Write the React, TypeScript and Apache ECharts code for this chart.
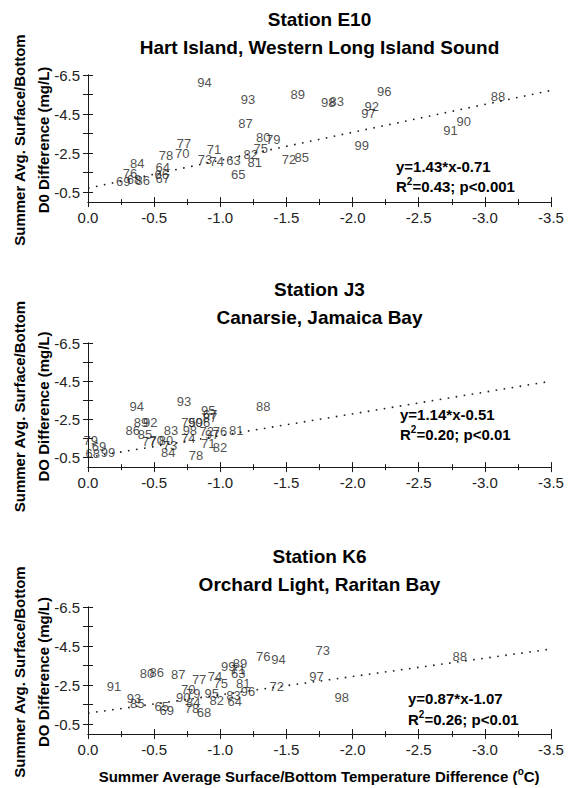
import React, { useEffect, useRef } from "react";
import * as echarts from "echarts";

// Station E10
const yearsE10 = [94, 93, 89, 87, 80, 79, 75, 82, 81, 71, 77, 70, 78, 73, 74, 63, 65, 72, 85, 84, 64, 76, 66, 67, 69, 68, 86, 96, 98, 83, 92, 97, 88, 90, 91, 99];
const xE10 = [-0.88, -1.21, -1.585, -1.19, -1.325, -1.4, -1.305, -1.23, -1.26, -0.952, -0.726, -0.713, -0.59, -0.884, -0.973, -1.1, -1.136, -1.52, -1.615, -0.373, -0.565, -0.317, -0.557, -0.565, -0.267, -0.348, -0.413, -2.24, -1.816, -1.88, -2.145, -2.12, -3.1, -2.84, -2.74, -2.07];
const yE10 = [-6.11, -5.26, -5.48, -4.04, -3.32, -3.18, -2.76, -2.42, -2.03, -2.67, -3.02, -2.5, -2.37, -2.16, -2.08, -2.13, -1.4, -2.2, -2.3, -1.96, -1.79, -1.48, -1.4, -1.23, -1.03, -1.14, -1.11, -5.65, -5.11, -5.14, -4.88, -4.55, -5.39, -4.12, -3.66, -2.88];

// Station J3
const yearsJ3 = [94, 93, 89, 92, 86, 85, 83, 77, 70, 80, 73, 84, 98, 74, 75, 90, 95, 67, 87, 96, 72, 97, 76, 81, 71, 82, 78, 88, 79, 69, 68, 99];
const xJ3 = [-0.368, -0.726, -0.4, -0.47, -0.338, -0.43, -0.627, -0.463, -0.519, -0.59, -0.62, -0.607, -0.77, -0.758, -0.76, -0.81, -0.909, -0.922, -0.922, -0.87, -0.897, -0.94, -0.998, -1.12, -0.909, -0.998, -0.816, -1.325, -0.02, -0.083, -0.036, -0.151];
const yJ3 = [-3.19, -3.45, -2.36, -2.36, -1.93, -1.7, -1.93, -1.32, -1.37, -1.41, -1.14, -0.79, -1.93, -1.49, -2.36, -2.36, -2.98, -2.77, -2.61, -2.36, -1.84, -1.72, -1.88, -1.93, -1.26, -1.02, -0.62, -3.15, -1.41, -1.09, -0.72, -0.78];

// Station K6
const yearsK6 = [91, 80, 86, 87, 77, 74, 75, 99, 89, 71, 63, 81, 76, 94, 72, 70, 79, 90, 95, 82, 84, 64, 83, 96, 78, 68, 65, 69, 93, 85, 73, 97, 98, 88];
const xK6 = [-0.197, -0.446, -0.52, -0.683, -0.84, -0.96, -1.003, -1.06, -1.149, -1.136, -1.136, -1.174, -1.325, -1.44, -1.426, -0.758, -0.796, -0.72, -0.935, -0.973, -0.796, -1.11, -1.1, -1.21, -0.786, -0.877, -0.557, -0.595, -0.348, -0.373, -1.774, -1.728, -1.918, -2.81];
const yK6 = [-2.45, -3.12, -3.17, -3.05, -2.79, -2.93, -2.59, -3.44, -3.61, -3.32, -3.1, -2.59, -3.99, -3.82, -2.45, -2.28, -2.1, -1.87, -2.07, -1.73, -1.64, -1.69, -1.99, -2.16, -1.32, -1.08, -1.39, -1.22, -1.82, -1.56, -4.3, -2.93, -1.86, -3.95];

// Regression lines (endpoints at x = 0 and x = -3.5)
const fitX = [0, -3.5];
const fitE10 = [-0.71, -5.71];
const fitJ3 = [-0.51, -4.5];
const fitK6 = [-1.07, -4.35];

const yLabelValues = [-6.5, -4.5, -2.5, -0.5];
const yTickValues = [-6.5, -5.5, -4.5, -3.5, -2.5, -1.5, -0.5];

const stations = ["Station E10", "Station J3", "Station K6"];
const places = ["Hart Island, Western Long Island Sound", "Canarsie, Jamaica Bay", "Orchard Light, Raritan Bay"];
const equations = ["y=1.43*x-0.71", "y=1.14*x-0.51", "y=0.87*x-1.07"];
const r2Values = ["0.43", "0.20", "0.26"];
const pValues = ["p<0.001", "p<0.01", "p<0.01"];
const yNameLine2 = ["D0 Difference (mg/L)", "DO Difference (mg/L)", "DO Difference (mg/L)"];

const FONT = "'Liberation Sans', Arial, Helvetica, sans-serif";
const INK = "#1a1a1a";
const Y_MAX = 0.15;

const grids = [
  { left: 88, top: 75, width: 463, height: 130 },
  { left: 88, top: 343, width: 463, height: 127 },
  { left: 88, top: 607, width: 463, height: 130 },
];
const titleY = [
  [19, 47],
  [289, 317],
  [556, 584],
];
const eqY = [
  [166, 185],
  [414, 433],
  [698, 718],
];
const eqX = [396, 400, 408];

export default function App() {
  const ref = useRef<HTMLDivElement>(null);
  useEffect(() => {
    if (!ref.current) return;
    const chart = echarts.init(ref.current, undefined, { renderer: "svg" });
    const datasets = [
      { years: yearsE10, xs: xE10, ys: yE10, fit: fitE10 },
      { years: yearsJ3, xs: xJ3, ys: yJ3, fit: fitJ3 },
      { years: yearsK6, xs: xK6, ys: yK6, fit: fitK6 },
    ];

    const xAxes: any[] = [];
    const yAxes: any[] = [];
    const series: any[] = [];
    const graphics: any[] = [];

    grids.forEach((g, i) => {
      xAxes.push({
        gridIndex: i,
        type: "value",
        min: -3.5,
        max: 0,
        interval: 0.5,
        inverse: true,
        position: "bottom",
        axisLine: { lineStyle: { color: INK, width: 1 } },
        axisTick: { inside: true, length: 5, lineStyle: { color: INK } },
        minorTick: { show: true, splitNumber: 2, length: 3, lineStyle: { color: INK } },
        splitLine: { show: false },
        axisLabel: {
          color: "#222",
          fontSize: 15,
          fontFamily: FONT,
          margin: 5,
          showMinLabel: true,
          showMaxLabel: true,
          formatter: (v: number) => (Math.abs(v) < 1e-9 ? "0.0" : v.toFixed(1)),
        },
      });
      xAxes.push({
        gridIndex: i,
        type: "value",
        min: -3.5,
        max: 0,
        interval: 0.5,
        inverse: true,
        position: "top",
        axisLine: { show: true, lineStyle: { color: INK, width: 1 } },
        axisTick: { inside: true, length: 5, lineStyle: { color: INK } },
        minorTick: { show: true, splitNumber: 2, length: 3, lineStyle: { color: INK } },
        splitLine: { show: false },
        axisLabel: { show: false },
      });
      yAxes.push({
        gridIndex: i,
        type: "value",
        min: -6.5,
        max: Y_MAX,
        inverse: true,
        position: "left",
        axisLine: { show: true, lineStyle: { color: INK, width: 1 } },
        axisTick: { show: true, inside: true, length: 5, customValues: yTickValues, lineStyle: { color: INK } },
        splitLine: { show: false },
        axisLabel: {
          color: "#222",
          fontSize: 15,
          fontFamily: FONT,
          margin: 8,
          customValues: yLabelValues,
          formatter: (v: number) => v.toFixed(1),
        },
      });
      yAxes.push({
        gridIndex: i,
        type: "value",
        min: -6.5,
        max: Y_MAX,
        inverse: true,
        position: "right",
        axisLine: { show: true, lineStyle: { color: INK, width: 1 } },
        axisTick: { show: true, inside: true, length: 5, customValues: yTickValues, lineStyle: { color: INK } },
        splitLine: { show: false },
        axisLabel: { show: false },
      });

      const d = datasets[i];
      series.push({
        type: "line",
        xAxisIndex: i * 2,
        yAxisIndex: i * 2,
        data: fitX.map((x, k) => [x, d.fit[k]]),
        symbol: "none",
        silent: true,
        lineStyle: { color: INK, width: 1.6, type: [1.6, 6.5] },
        z: 1,
      });
      series.push({
        type: "scatter",
        xAxisIndex: i * 2,
        yAxisIndex: i * 2,
        data: d.years.map((yr, k) => [d.xs[k], d.ys[k], yr]),
        symbolSize: 1,
        itemStyle: { color: "rgba(0,0,0,0)" },
        label: {
          show: true,
          position: "inside",
          formatter: (p: any) => String(p.value[2]),
          color: "#222",
          fontSize: 13,
          fontFamily: FONT,
        },
        z: 2,
      });

      const cx = g.left + g.width / 2;
      graphics.push({
        type: "text",
        x: cx,
        y: titleY[i][0],
        style: { text: stations[i], fill: "#000", font: `bold 19px ${FONT}`, textAlign: "center", textVerticalAlign: "middle" },
      });
      graphics.push({
        type: "text",
        x: cx,
        y: titleY[i][1],
        style: { text: places[i], fill: "#000", font: `bold 19px ${FONT}`, textAlign: "center", textVerticalAlign: "middle" },
      });
      const cy = g.top + g.height / 2;
      graphics.push({
        type: "text",
        x: 19,
        y: cy,
        rotation: Math.PI / 2,
        style: { text: "Summer Avg. Surface/Bottom", fill: "#000", font: `bold 15px ${FONT}`, textAlign: "center", textVerticalAlign: "middle" },
      });
      graphics.push({
        type: "text",
        x: 43,
        y: cy,
        rotation: Math.PI / 2,
        style: { text: yNameLine2[i], fill: "#000", font: `bold 15px ${FONT}`, textAlign: "center", textVerticalAlign: "middle" },
      });
      graphics.push({
        type: "text",
        x: eqX[i],
        y: eqY[i][0],
        style: { text: equations[i], fill: "#000", font: `bold 15px ${FONT}`, textAlign: "left", textVerticalAlign: "middle" },
      });
      graphics.push({
        type: "text",
        x: eqX[i],
        y: eqY[i][1],
        style: {
          text: `{b|R}{s|2}{b|=${r2Values[i]}; ${pValues[i]}}`,
          textAlign: "left",
          textVerticalAlign: "middle",
          rich: {
            b: { fill: "#000", fontSize: 15, fontWeight: "bold", fontFamily: FONT, verticalAlign: "bottom" },
            s: { fill: "#000", fontSize: 10, fontWeight: "bold", fontFamily: FONT, verticalAlign: "top", padding: [0, 0, 8, 0] },
          },
        },
      });
    });

    graphics.push({
      type: "text",
      x: 319,
      y: 775,
      style: {
        text: "{b|Summer Average Surface/Bottom Temperature Difference (}{s|o}{b|C)}",
        textAlign: "center",
        textVerticalAlign: "middle",
        rich: {
          b: { fill: "#000", fontSize: 15, fontWeight: "bold", fontFamily: FONT, verticalAlign: "bottom" },
          s: { fill: "#000", fontSize: 10, fontWeight: "bold", fontFamily: FONT, verticalAlign: "top", padding: [0, 0, 8, 0] },
        },
      },
    });

    chart.setOption({
      animation: false,
      backgroundColor: "#ffffff",
      grid: grids.map((g) => ({ ...g, containLabel: false })),
      xAxis: xAxes,
      yAxis: yAxes,
      series,
      graphic: graphics,
    });
    return () => chart.dispose();
  }, []);
  return <div ref={ref} style={{ position: "fixed", left: 0, top: 0, width: 572, height: 788 }} />;
}
